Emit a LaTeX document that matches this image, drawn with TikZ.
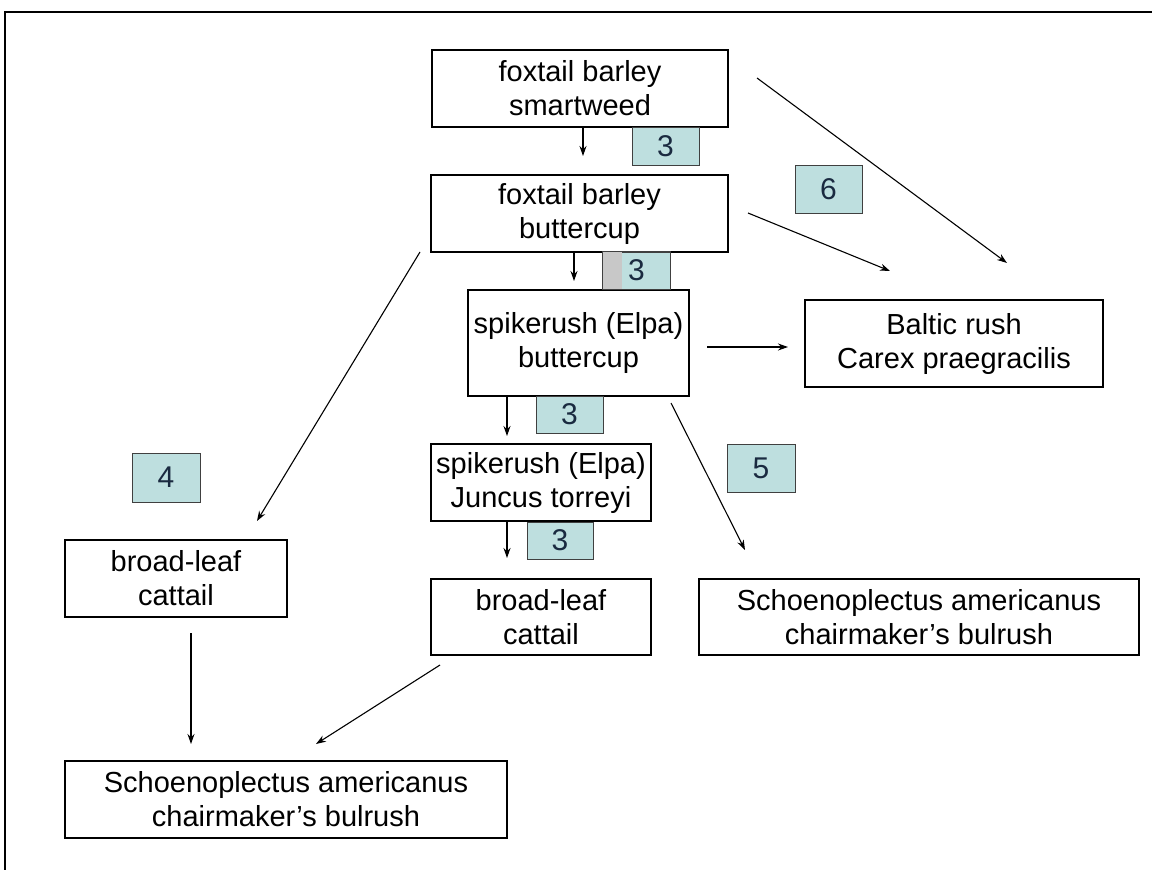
\documentclass[tikz,border=0pt]{standalone}
\usepackage{fontspec}
\setmainfont{Liberation Sans}
\usetikzlibrary{arrows.meta}
\definecolor{lblfill}{HTML}{BEDFDF}
\definecolor{lbltext}{HTML}{1A2A40}
\definecolor{greypart}{HTML}{C8C8C8}
\tikzset{
  box/.style={draw=black, line width=1.3pt, fill=white, inner sep=0pt, align=center,
    font=\fontsize{29}{34}\selectfont},
  lbl/.style={draw=black!75, line width=1pt, fill=lblfill, inner sep=0pt,
    text=lbltext, font=\fontsize{30}{34}\selectfont},
  conn/.style={line width=1.1pt, -{Stealth[length=10pt,width=7pt]}},
}
\begin{document}
\begin{tikzpicture}[x=1pt,y=-1pt]
\useasboundingbox (0,0) rectangle (1152,870);
\draw[line width=2pt] (5,870) -- (5,12) -- (1152,12);

% main boxes
\node[box, minimum width=296pt, minimum height=77pt] (b1) at (580,88.5) {foxtail barley\\smartweed};
\node[box, minimum width=297pt, minimum height=77pt] (b2) at (579.5,213.5) {foxtail barley\\buttercup};
\node[box, minimum width=221pt, minimum height=106pt] (b3) at (578.5,343) {spikerush (Elpa)\\buttercup};
\node[box, minimum width=298pt, minimum height=87pt] (b4) at (954,343.5) {Baltic rush\\Carex praegracilis};
\node[box, minimum width=220pt, minimum height=77pt] (b5) at (541,482.5) {spikerush (Elpa)\\Juncus torreyi};
\node[box, minimum width=220pt, minimum height=76pt] (b6) at (541,617) {broad-leaf\\cattail};
\node[box, minimum width=440pt, minimum height=76pt] (b7) at (919,617) {Schoenoplectus americanus\\chairmaker’s bulrush};
\node[box, minimum width=222pt, minimum height=77pt] (b8) at (176,578.5) {broad-leaf\\cattail};
\node[box, minimum width=442pt, minimum height=77pt] (b9) at (286,799.5) {Schoenoplectus americanus\\chairmaker’s bulrush};

% labels
\node[lbl, minimum width=67pt, minimum height=38pt] (l1) at (665.5,146) {3};
\node[lbl, minimum width=67pt, minimum height=37pt] (l2) at (636.5,270.5) {};
\fill[greypart] (l2.north west) rectangle ([xshift=19pt]l2.south west);
\draw[black!75, line width=1pt] (l2.north west) rectangle (l2.south east);
\node[text=lbltext, font=\fontsize{30}{34}\selectfont, inner sep=0pt] (l2t) at (l2.center) {3};
\node[lbl, minimum width=67pt, minimum height=48pt] (l6) at (828.5,189) {6};
\node[lbl, minimum width=67pt, minimum height=37pt] (l3a) at (569.5,414.5) {3};
\node[lbl, minimum width=66pt, minimum height=37pt] (l3b) at (560,540.5) {3};
\node[lbl, minimum width=68pt, minimum height=48pt] (l5) at (761,468) {5};
\node[lbl, minimum width=68pt, minimum height=49pt] (l4) at (166,477.5) {4};

% connector end points
\coordinate (a1s) at (583,128);  \coordinate (a1e) at (583,156);
\coordinate (a2s) at (574,253);  \coordinate (a2e) at (574,281);
\coordinate (a3s) at (507,397);  \coordinate (a3e) at (507,436);
\coordinate (a4s) at (507,522);  \coordinate (a4e) at (507,558);
\coordinate (a5s) at (707,347);  \coordinate (a5e) at (788,347);
\coordinate (a6s) at (748,213);  \coordinate (a6e) at (890,271);
\coordinate (a7s) at (757,78);   \coordinate (a7e) at (1007,263);
\coordinate (a8s) at (671,403);  \coordinate (a8e) at (745,550);
\coordinate (a9s) at (420,252);  \coordinate (a9e) at (257,521);
\coordinate (a10s) at (191,633); \coordinate (a10e) at (191,744);
\coordinate (a11s) at (440,665); \coordinate (a11e) at (316,744);

\draw[conn] (a1s) -- (a1e);
\draw[conn] (a2s) -- (a2e);
\draw[conn] (a3s) -- (a3e);
\draw[conn] (a4s) -- (a4e);
\draw[conn] (a5s) -- (a5e);
\draw[conn] (a6s) -- (a6e);
\draw[conn] (a7s) -- (a7e);
\draw[conn] (a8s) -- (a8e);
\draw[conn] (a9s) -- (a9e);
\draw[conn] (a10s) -- (a10e);
\draw[conn] (a11s) -- (a11e);
\end{tikzpicture}
\end{document}
